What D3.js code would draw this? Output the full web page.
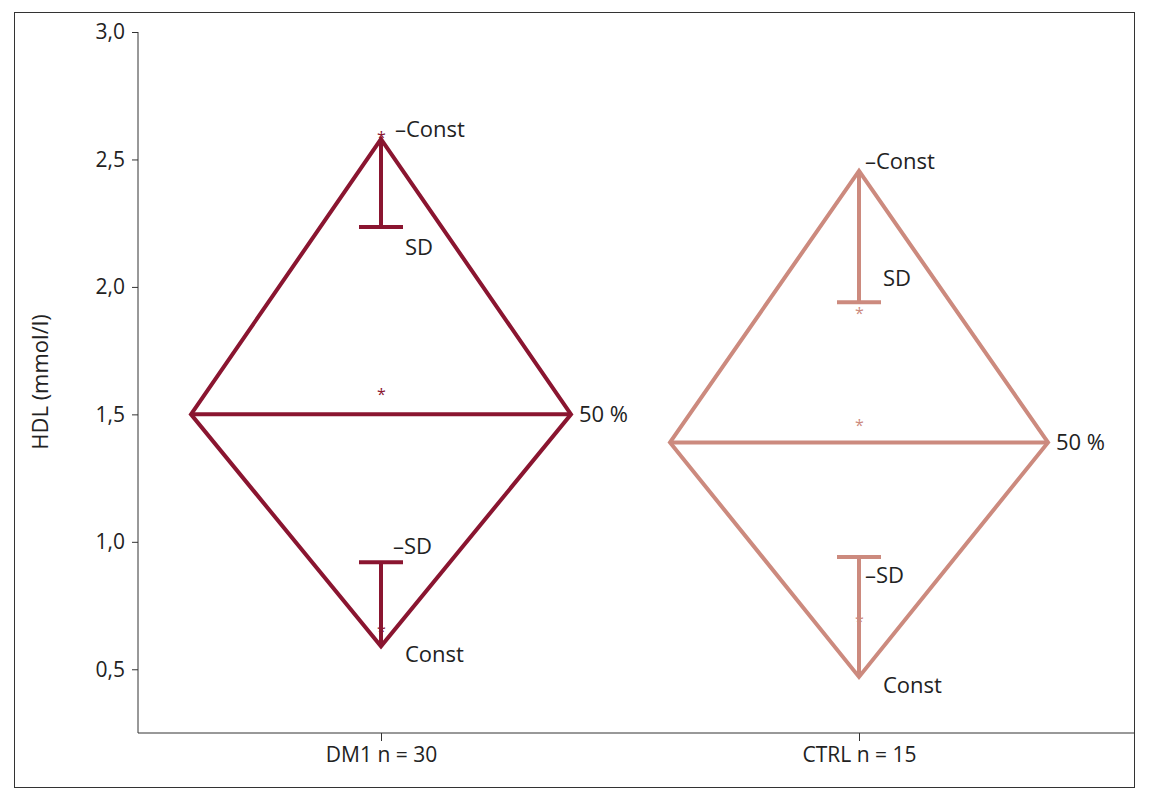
<!DOCTYPE html><html><head><meta charset="utf-8"><script src="https://cdn.jsdelivr.net/npm/d3@7"></script>
<style>body{margin:0;background:#fff}text{font-family:"Open Sans",sans-serif;fill:#222}</style></head><body><svg id="c" width="1149" height="800"></svg><script>
const groups=["DM1 n = 30","CTRL n = 15"];
const colors=["#8a1530","#cc8a7e"];
const topVal=[2.58,2.455];
const midVal=[1.5,1.39];
const botVal=[0.59,0.47];
const sdVal=[2.235,1.94];
const negSdVal=[0.92,0.94];
const starVals=[[2.6,1.59,0.66],[1.91,1.47,0.70]];
const yTicks=[0.5,1.0,1.5,2.0,2.5,3.0];
const svg=d3.select("#c");
svg.append("rect").attr("x",14.5).attr("y",12.5).attr("width",1120).attr("height",775).attr("fill","none").attr("stroke","#333").attr("stroke-width",1);
const y=d3.scaleLinear().domain([0.25,3.0]).range([733,32]);
const x=d3.scalePoint().domain(groups).range([381,859]);
const fmt=d=>d.toFixed(1).replace(".",",");
const ya=svg.append("g").attr("transform","translate(138,0)").call(d3.axisLeft(y).tickValues(yTicks).tickFormat(fmt).tickSize(6));
ya.attr("font-size",21).attr("font-family","Open Sans");
ya.select(".domain").attr("d","M0,733V32");
ya.selectAll("text").attr("dx","-4");
const xa=svg.append("g").attr("transform","translate(0,733)").call(d3.axisBottom(x).tickSize(8));
xa.attr("font-size",21).attr("font-family","Open Sans");
xa.select(".domain").attr("d","M138,0H1135");
xa.selectAll("text").attr("dy","18");
svg.selectAll(".domain,.tick line").attr("stroke","#333");
svg.append("text").attr("transform","translate(48,382) rotate(-90)").attr("text-anchor","middle").attr("font-size",22).text("HDL (mmol/l)");
const hw=[190,189];
groups.forEach((g,i)=>{
  const cx=x(g),c=colors[i],w=hw[i];
  const G=svg.append("g").attr("stroke",c).attr("stroke-width",4).attr("fill","none");
  G.append("path").attr("d",`M${cx},${y(topVal[i])}L${cx+w},${y(midVal[i])}L${cx},${y(botVal[i])}L${cx-w},${y(midVal[i])}Z`);
  G.append("line").attr("x1",cx-w).attr("x2",cx+w).attr("y1",y(midVal[i])).attr("y2",y(midVal[i]));
  G.append("line").attr("x1",cx).attr("x2",cx).attr("y1",y(topVal[i])).attr("y2",y(sdVal[i]));
  G.append("line").attr("x1",cx-22).attr("x2",cx+22).attr("y1",y(sdVal[i])).attr("y2",y(sdVal[i]));
  G.append("line").attr("x1",cx).attr("x2",cx).attr("y1",y(botVal[i])).attr("y2",y(negSdVal[i]));
  G.append("line").attr("x1",cx-22).attr("x2",cx+22).attr("y1",y(negSdVal[i])).attr("y2",y(negSdVal[i]));
  starVals[i].forEach(v=>svg.append("text").attr("x",cx-4).attr("y",y(v)+9).attr("font-size",16).style("fill",c).text("*"));
  const lab=(t,xx,yy)=>svg.append("text").attr("x",xx).attr("y",yy).attr("font-size",22).text(t);
  lab("–Const",cx+(i==0?14:6),y(topVal[i])+(i==0?-2:-2));
  lab("SD",cx+24,y(sdVal[i])+(i==0?28:-16));
  lab("50 %",cx+w+8,y(midVal[i])+8);
  lab("–SD",cx+(i==0?12:6),y(negSdVal[i])+(i==0?-8:26));
  lab("Const",cx+24,y(botVal[i])+16);
});
</script></body></html>
